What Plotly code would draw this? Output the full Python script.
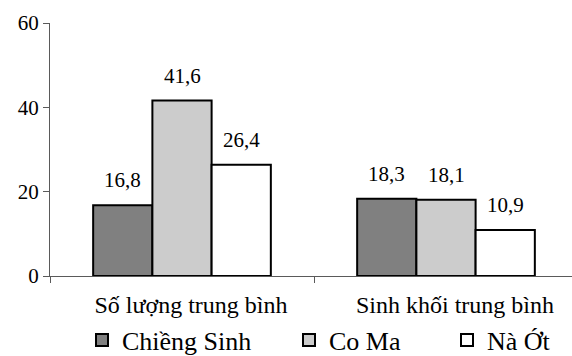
import plotly.graph_objects as go

categories = ["Số lượng trung bình", "Sinh khối trung bình"]
series_names = ["Chiềng Sinh", "Co Ma", "Nà Ớt"]
chieng_sinh = [16.8, 18.3]
co_ma = [41.6, 18.1]
na_ot = [26.4, 10.9]
y_ticks = [0, 20, 40, 60]

series_values = [chieng_sinh, co_ma, na_ot]

FONT = "Liberation Serif, Times New Roman, serif"
BARGAP = 0.327

styles = [
    dict(color="#808080", pattern=None),
    dict(color="white", pattern=dict(shape=".", fgcolor="black", bgcolor="white", size=2, solidity=0.45)),
    dict(color="white", pattern=None),
]
legend_x = [82, 289, 447]

fig = go.Figure()
for j, (name, vals) in enumerate(zip(series_names, series_values)):
    marker = dict(color=styles[j]["color"], line=dict(color="black", width=2))
    if styles[j]["pattern"]:
        marker["pattern"] = styles[j]["pattern"]
    fig.add_trace(go.Bar(
        x=categories, y=vals, name=name, marker=marker,
        legend="legend" if j == 0 else f"legend{j+1}",
    ))

# value labels
gw = (1 - BARGAP) / 3
for j, vals in enumerate(series_values):
    for i, v in enumerate(vals):
        fig.add_annotation(
            x=i + (j - 1) * gw, y=v, xref="x", yref="y",
            text=f"{v:.1f}".replace(".", ","), showarrow=False,
            yanchor="bottom", yshift=11,
            font=dict(family=FONT, size=21, color="black"),
        )

legend_common = dict(
    orientation="h", xref="container", yref="container", yanchor="middle",
    y=1 - 340 / 356, font=dict(family=FONT, size=26, color="black"),
    bgcolor="rgba(0,0,0,0)", borderwidth=0,
)
layout_legends = {}
for j in range(3):
    key = "legend" if j == 0 else f"legend{j+1}"
    layout_legends[key] = dict(legend_common, x=legend_x[j] / 572, xanchor="left")

fig.update_layout(
    width=572, height=356,
    margin=dict(l=50, r=0, t=23, b=80, autoexpand=False),
    paper_bgcolor="white", plot_bgcolor="white",
    barmode="group", bargap=BARGAP, bargroupgap=0,
    font=dict(family=FONT, color="black"),
    showlegend=True,
    **layout_legends,
)
fig.update_xaxes(
    range=[-0.5, -0.5 + 522 / 264], showline=True, linecolor="#5a5a5a", linewidth=1,
    ticks="outside", tickson="boundaries", ticklen=6, tickcolor="#5a5a5a",
    showgrid=False, zeroline=False, ticklabelshift=9, ticklabelstandoff=7,
    tickfont=dict(family=FONT, size=24, color="black"),
)
fig.update_yaxes(
    range=[0, 60], tickvals=y_ticks, showline=True, linecolor="#5a5a5a", linewidth=1,
    ticks="outside", ticklen=6, tickcolor="#5a5a5a", showgrid=False, zeroline=False,
    tickfont=dict(family=FONT, size=21, color="black"),
)

fig.write_html("out.html", config={"displayModeBar": False},
               post_script="document.body.style.margin='0';")
